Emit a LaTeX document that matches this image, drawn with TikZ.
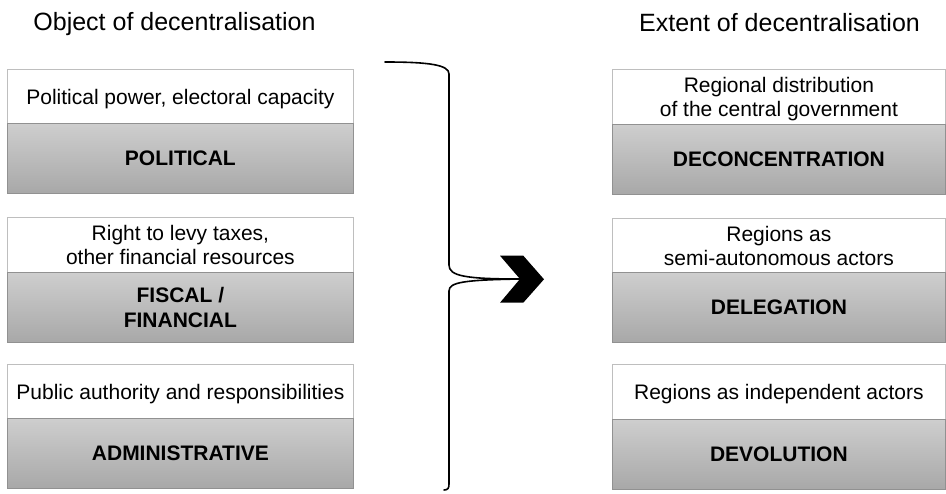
\documentclass[tikz,border=0pt]{standalone}
\usepackage{fontspec}
\setmainfont{Liberation Sans}
\definecolor{graytop}{RGB}{206,206,206}
\definecolor{graybot}{RGB}{168,168,168}
\definecolor{boxline}{RGB}{190,190,190}
\definecolor{divline}{RGB}{145,145,145}
\begin{document}
\begin{tikzpicture}[x=1pt,y=-1pt,
  title/.style={anchor=base, inner sep=0pt, font=\fontsize{25}{30}\selectfont},
  whitebox/.style={anchor=north west, draw=boxline, line width=0.8pt, fill=white, minimum height=55pt, inner sep=0pt, align=center, text depth=0pt, font=\fontsize{21}{23.5}\selectfont},
  graybox/.style={anchor=north west, draw=divline, line width=0.8pt, top color=graytop, bottom color=graybot, minimum height=70pt, inner sep=0pt, align=center, text depth=0pt, font=\bfseries\fontsize{21}{25}\selectfont},
  leftcol/.style={minimum width=346pt},
  rightcol/.style={minimum width=333pt},
  bracestyle/.style={line width=1.6pt, line cap=round, line join=round},
  chevronfill/.style={fill=black}
]
\useasboundingbox (0,0) rectangle (946,494);
\fill[white] (0,0) rectangle (946,494);

\node[title] (lt) at (174.5,31) {Object of decentralisation};
\node[title] (rt) at (779.5,32) {Extent of decentralisation};

% left column
\node[whitebox,leftcol] (l1w) at (7,69) {Political power, electoral capacity};
\node[graybox,leftcol] (l1g) at (7,123) {POLITICAL};
\node[whitebox,leftcol] (l2w) at (7,217) {Right to levy taxes,\\other financial resources};
\node[graybox,leftcol] (l2g) at (7,272) {FISCAL /\\FINANCIAL};
\node[whitebox,leftcol] (l3w) at (7,364) {Public authority and responsibilities};
\node[graybox,leftcol] (l3g) at (7,418) {ADMINISTRATIVE};

% right column
\node[whitebox,rightcol] (r1w) at (612,69) {Regional distribution\\of the central government};
\node[graybox,rightcol] (r1g) at (612,124) {DECONCENTRATION};
\node[whitebox,rightcol] (r2w) at (612,218) {Regions as\\semi-autonomous actors};
\node[graybox,rightcol] (r2g) at (612,272) {DELEGATION};
\node[whitebox,rightcol] (r3w) at (612,364) {Regions as independent actors};
\node[graybox,rightcol] (r3g) at (612,419) {DEVOLUTION};

% brace
\coordinate (bt) at (385,62);
\coordinate (tip) at (520,279);
\coordinate (bb) at (444,490);
\draw[bracestyle] (bt) .. controls (430,62) and (449,65) .. (449,74)
  -- (449,265) .. controls (449,276) and (465,279) .. (tip)
  .. controls (465,280) and (449,282) .. (449,291)
  -- (449,484) .. controls (449,488) and (448,490) .. (bb);

% chevron
\fill[chevronfill] (500,255.7) -- (523.3,255.7) -- (544,279.3) -- (523.3,302.7) -- (500,302.7) -- (tip) -- cycle;
\end{tikzpicture}
\end{document}
